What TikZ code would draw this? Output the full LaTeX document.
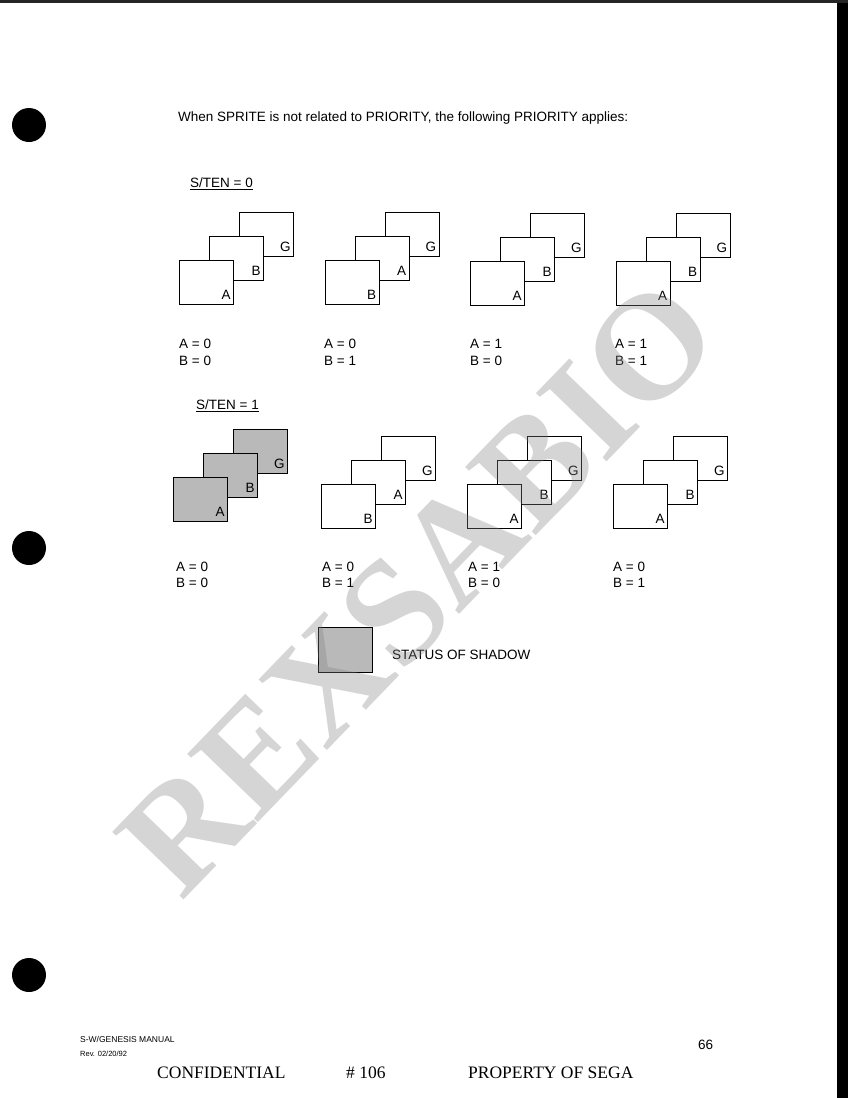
\documentclass[tikz,border=0pt]{standalone}
\usepackage{fontspec}
\setmainfont{Liberation Sans}
\newfontfamily\serifface{Liberation Serif}
\usetikzlibrary{positioning}

% three overlapping sprite boxes: name, x, y, front, middle, back, box style
\newcommand{\spritestack}[7]{%
  \node[#7, anchor=north west] (#1back) at (#2+60,#3-48) {};
  \node[tag] (#1backl) at ([shift={(-3,-5)}]#1back.south east) {#6};
  \node[#7, anchor=north west] (#1mid) at (#2+30,#3-24) {};
  \node[tag] (#1midl) at ([shift={(-3,-5)}]#1mid.south east) {#5};
  \node[#7, anchor=north west] (#1front) at (#2,#3) {};
  \node[tag] (#1frontl) at ([shift={(-3,-5)}]#1front.south east) {#4};
}

\begin{document}
\begin{tikzpicture}[x=1pt,y=-1pt,
    txt/.style={font=\fontsize{13.5}{16}\selectfont, inner sep=0pt, anchor=west},
    tag/.style={font=\fontsize{13.5}{16}\selectfont, inner sep=0pt, anchor=south east},
    plainbox/.style={draw, line width=0.9pt, fill=white, minimum width=54pt, minimum height=44pt, inner sep=0pt},
    shadowbox/.style={plainbox, fill=gray!55},
    hole/.style={circle, fill=black, minimum size=34pt, inner sep=0pt}]
  \useasboundingbox (0,0) rectangle (848,1098);
  \fill[white] (0,0) rectangle (848,1098);
  % scan edges
  \fill[black!85] (0,0) rectangle (848,3);
  \fill[black] (837,3) rectangle (848,1098);
  % binder holes
  \node[hole] (hole1) at (29,125) {};
  \node[hole] (hole2) at (29,548) {};
  \node[hole] (hole3) at (29,975) {};

  \node[txt] (intro) at (178,118) {When SPRITE is not related to PRIORITY, the following PRIORITY applies:};

  % S/TEN = 0
  \node[txt] (ten0) at (190,184) {\underline{S/TEN = 0}};
  \spritestack{p1}{179}{260}{A}{B}{G}{plainbox}
  \spritestack{p2}{324.5}{260}{B}{A}{G}{plainbox}
  \spritestack{p3}{470}{261}{A}{B}{G}{plainbox}
  \spritestack{p4}{615.5}{261}{A}{B}{G}{plainbox}
  \node[txt] (p1a) at (179,344) {A = 0};
  \node[txt] (p1b) at (179,361) {B = 0};
  \node[txt] (p2a) at (324,344) {A = 0};
  \node[txt] (p2b) at (324,361) {B = 1};
  \node[txt] (p3a) at (470,344) {A = 1};
  \node[txt] (p3b) at (470,361) {B = 0};
  \node[txt] (p4a) at (615,344) {A = 1};
  \node[txt] (p4b) at (615,361) {B = 1};

  % S/TEN = 1
  \node[txt] (ten1) at (196,406) {\underline{S/TEN = 1}};
  \spritestack{q1}{173}{477}{A}{B}{G}{shadowbox}
  \spritestack{q2}{321}{484}{B}{A}{G}{plainbox}
  \spritestack{q3}{467}{484}{A}{B}{G}{plainbox}
  \spritestack{q4}{613}{484}{A}{B}{G}{plainbox}
  \node[txt] (q1a) at (176,567) {A = 0};
  \node[txt] (q1b) at (176,583) {B = 0};
  \node[txt] (q2a) at (322,567) {A = 0};
  \node[txt] (q2b) at (322,583) {B = 1};
  \node[txt] (q3a) at (468,567) {A = 1};
  \node[txt] (q3b) at (468,583) {B = 0};
  \node[txt] (q4a) at (613,567) {A = 0};
  \node[txt] (q4b) at (613,583) {B = 1};

  % legend
  \node[shadowbox, anchor=north west, minimum height=45pt] (legend) at (318,627) {};
  \node[txt] (legendl) at (392,655) {STATUS OF SHADOW};

  % footer
  \node[txt, font=\fontsize{8.5}{10}\selectfont] (manual) at (80,1039) {S-W/GENESIS MANUAL};
  \node[txt, font=\fontsize{7.5}{9}\selectfont] (rev) at (80,1054) {Rev. 02/20/92};
  \node[txt] (page) at (698,1045) {66};
  \node[txt, font=\serifface\fontsize{17.5}{20}\selectfont] (conf) at (157,1073) {CONFIDENTIAL};
  \node[txt, font=\serifface\fontsize{17.5}{20}\selectfont] (num) at (346,1073) {\# 106};
  \node[txt, font=\serifface\fontsize{17.5}{20}\selectfont] (prop) at (468,1073) {PROPERTY OF SEGA};

  % watermark
  \node[rotate=46, text=gray, opacity=0.33, inner sep=0pt,
        font=\serifface\bfseries\fontsize{150}{150}\selectfont] (mark) at (418,587) {REXSABIO};
\end{tikzpicture}
\end{document}
